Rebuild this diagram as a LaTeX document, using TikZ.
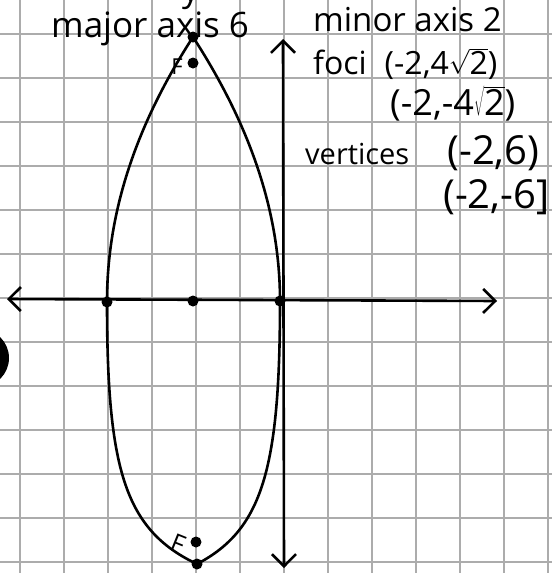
\documentclass[tikz,border=0pt]{standalone}
\usepackage{fontspec}
\setmainfont{Open Sans}
\usetikzlibrary{arrows.meta}
\tikzset{
  gridline/.style={draw=gray!65, line width=1.6pt},
  curve/.style={line width=2.6pt, line cap=round, line join=round},
  axisline/.style={line width=2.6pt, line cap=round, <->},
  dot/.style={circle, fill=black, inner sep=0pt, minimum size=11pt},
  hand/.style={inner sep=0pt, anchor=base west, text=black},
  flabel/.style={inner sep=0pt, text=black},
}
\newcommand{\rtwo}{$\sqrt{\mbox{2}}$}
\begin{document}
\begin{tikzpicture}[x=1pt,y=-1pt,>={Straight Barb[length=12pt,width=24pt]}]
\useasboundingbox (0,0) rectangle (552,573);
\fill[white] (0,0) rectangle (552,573);
% graph paper
\foreach \i in {0,...,12} {
  \draw[gridline] (20+44*\i,0) -- (20+44*\i,573);
  \draw[gridline] (0,34+44*\i) -- (552,34+44*\i);
}
% hole punch at the left edge
\fill[black] (-20,358) circle[radius=29];
% axes
\coordinate (xl) at (7,299);
\coordinate (xr) at (497,301);
\coordinate (yt) at (283,39);
\coordinate (yb) at (284,568);
\draw[axisline] (xl) -- (xr);
\draw[axisline] (yt) -- (yb);
% points
\node[dot] (L) at (107,302) {};
\node[dot] (C) at (193,301) {};
\node[dot] (R) at (280,301) {};
\node[dot] (T) at (193,37) {};
\node[dot] (B) at (197,564) {};
\node[dot] (FT) at (193,63) {};
\node[dot] (FB) at (196,542) {};
% ellipse (hand drawn)
\draw[curve] (L.center) .. controls (107,212) and (136,125) .. (T.center)
  .. controls (250,125) and (280,212) .. (R.center)
  .. controls (280,470) and (262,530) .. (B.center)
  .. controls (125,530) and (107,470) .. (L.center);
% focus labels
\node[flabel, font=\fontsize{22}{22}\selectfont] (F1) at (177,67) {F};
\node[flabel, font=\fontsize{25}{25}\selectfont, rotate=-22] (F2) at (178,544) {F};
% texts
\node[hand, font=\fontsize{34}{40}\selectfont] (ylab) at (182,1) {y};
\node[hand, font=\fontsize{35}{40}\selectfont] (major) at (51,37) {major axis 6};
\node[hand, font=\fontsize{33}{40}\selectfont] (minor) at (313,31) {minor axis 2};
\node[hand, font=\fontsize{32}{36}\selectfont] (foci) at (313,74) {foci\hspace{18pt}(-2,4\rtwo)};
\node[hand, font=\fontsize{36}{40}\selectfont] (foci2) at (390,115) {(-2,-4\rtwo)};
\node[hand, font=\fontsize{29}{36}\selectfont] (vert) at (305,164) {vertices\hspace{38pt}{\fontsize{40}{40}\selectfont(-2,6)}};
\node[hand, font=\fontsize{40}{44}\selectfont] (vert2) at (443,208) {(-2,-6]};
\end{tikzpicture}
\end{document}
